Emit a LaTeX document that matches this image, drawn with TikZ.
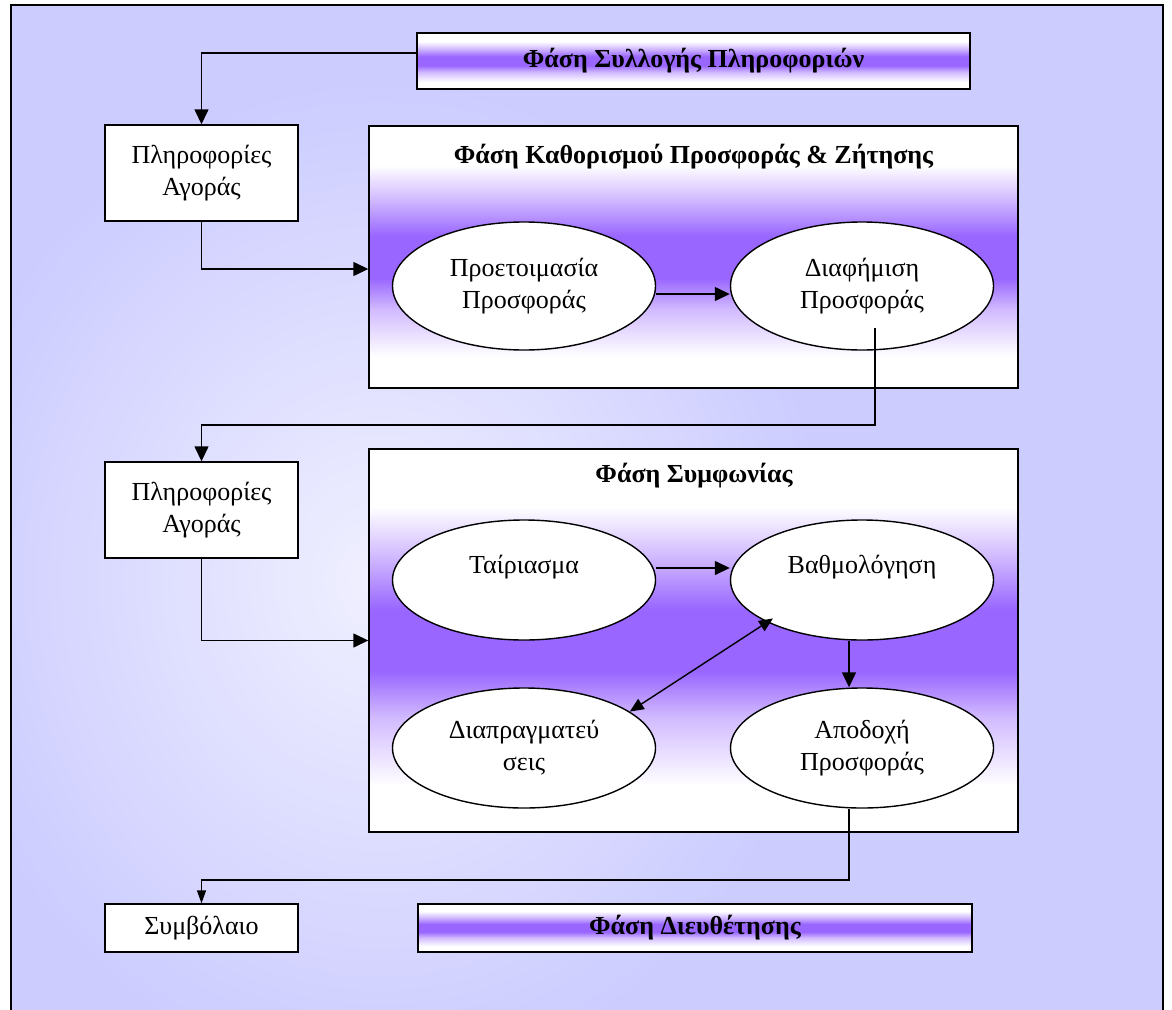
\documentclass[tikz,border=0pt]{standalone}
\usepackage{fontspec}
\setmainfont{Liberation Serif}
\usetikzlibrary{arrows.meta,calc,shapes.geometric}

\definecolor{bgblue}{HTML}{CCCCFF}
\definecolor{bglight}{HTML}{F0F0FF}
\definecolor{vio}{HTML}{9966FF}

% white -> violet band -> white, the path spans 25bp..75bp
\pgfdeclareverticalshading{bandshade}{100bp}{%
  color(0bp)=(white); color(25bp)=(white); color(31bp)=(white);
  color(40bp)=(vio!45!white); color(46bp)=(vio); color(54bp)=(vio);
  color(61bp)=(vio!45!white); color(67.5bp)=(white); color(100bp)=(white)}

\tikzset{
  every node/.style={font=\fontsize{26}{32}\selectfont, align=center},
  infobox/.style={draw, fill=white, line width=1.4pt, minimum width=193pt,
    minimum height=96pt, inner sep=0pt},
  phasebox/.style={draw, line width=1.4pt, shading=bandshade, inner sep=0pt},
  bubble/.style={ellipse, draw, fill=white, line width=1.4pt,
    minimum width=263pt, minimum height=120pt, inner sep=0pt},
  phasetitle/.style={font=\bfseries\fontsize{26}{31}\selectfont},
  link/.style={line width=1.4pt, -{Triangle[length=15pt,width=14pt]}},
  linksmall/.style={line width=1.4pt, -{Triangle[length=13pt,width=9pt]}},
  twoway/.style={line width=1.4pt,
    {Triangle[length=14pt,width=12pt]}-{Triangle[length=14pt,width=12pt]}},
}

\begin{document}
\begin{tikzpicture}[x=1pt,y=-1pt]
\useasboundingbox (0,0) rectangle (1172,1009);

% background panel
\fill[bgblue] (11,5) rectangle (1163,1020);
\begin{scope}
  \clip (11,5) rectangle (1163,1020);
  \shade[inner color=bglight, outer color=bgblue]
    (380,580) ellipse [x radius=450, y radius=500];
\end{scope}
\draw[line width=1.2pt] (11,1020) -- (11,5) -- (1163,5) -- (1163,1020);

% phase bars and boxes
\node[phasebox, minimum width=553pt, minimum height=56pt] (bar1) at (693.5,61)
  {\bfseries\fontsize{26}{31}\selectfont Φάση Συλλογής Πληροφοριών};
\node[phasebox, minimum width=649pt, minimum height=262pt] (phase2) at (693.5,257) {};
\node[phasetitle] (t2) at (693.5,157) {Φάση Καθορισμού Προσφοράς \& Ζήτησης};
\node[phasebox, minimum width=649pt, minimum height=383pt] (phase3) at (693.5,640.5) {};
\node[phasetitle] (t3) at (694,476) {Φάση Συμφωνίας};
\node[phasebox, minimum width=554pt, minimum height=48pt] (bar2) at (695,928)
  {\bfseries\fontsize{26}{31}\selectfont Φάση Διευθέτησης};

% information boxes
\node[infobox] (info1) at (201.5,173) {Πληροφορίες\\Αγοράς};
\node[infobox] (info2) at (201.5,510) {Πληροφορίες\\Αγοράς};
\node[infobox, minimum height=48pt] (symb) at (201.5,928) {Συμβόλαιο};

% activities
\node[bubble, minimum height=128pt] (prep) at (524,286) {Προετοιμασία\\Προσφοράς};
\node[bubble, minimum height=128pt] (diaf) at (862,286) {Διαφήμιση\\Προσφοράς};
\node[bubble] (tair) at (524,580) {Ταίριασμα\\~};
\node[bubble] (vath) at (862,580) {Βαθμολόγηση\\~};
\node[bubble] (diap) at (524,748) {Διαπραγματεύ\\σεις};
\node[bubble] (apod) at (862,748) {Αποδοχή\\Προσφοράς};

% connectors
\coordinate (dstart) at (875,328);
\coordinate (bend1) at (875,425);
\coordinate (bend2) at (849,880);

\draw[link] ([yshift=8pt]bar1.west) -| (info1.north);
\draw[link] (info1.south) |- ([yshift=-12pt]phase2.west);
\draw[link] ([yshift=-8pt]prep.east) -- ([yshift=-8pt]diaf.west);
\draw[link] (dstart) -- (bend1) -| (info2.north);
\draw[link] (info2.south) |- (phase3.west);
\draw[link] ([yshift=12pt]tair.east) -- ([yshift=12pt]vath.west);
\draw[link] ([xshift=-13pt]vath.south) -- ([xshift=-13pt]apod.north);
\draw[twoway, shorten >=-7pt] (diap.19) -- (vath.204);
\draw[linksmall] ([xshift=-13pt]apod.south) -- (bend2) -| (symb.north);
\end{tikzpicture}
\end{document}
